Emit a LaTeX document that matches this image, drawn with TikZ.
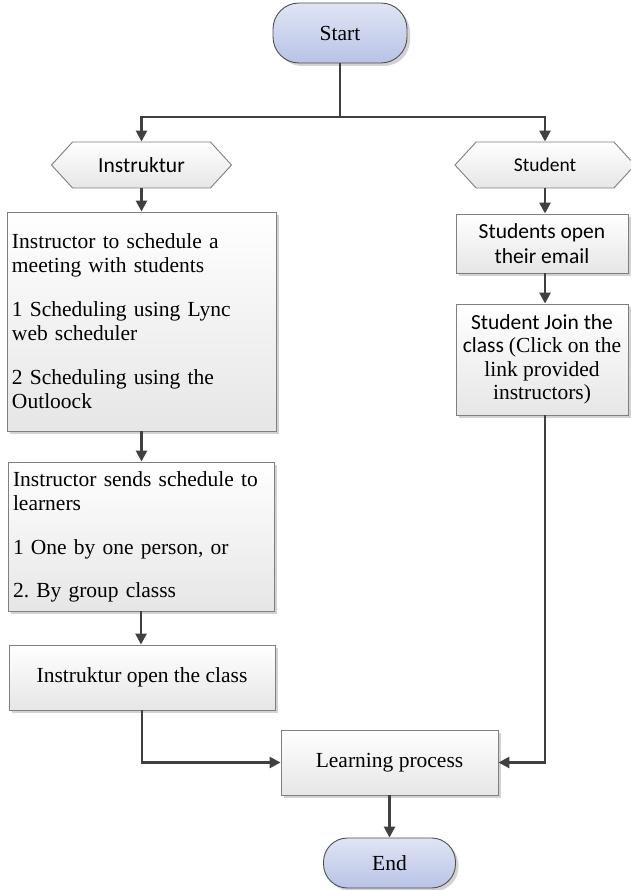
\documentclass[tikz,border=0pt]{standalone}
\usepackage{fontspec}
\setmainfont{Liberation Serif}
\newfontfamily\calfont{Carlito}
\usetikzlibrary{arrows.meta,shapes.symbols,shadows}
\definecolor{arr}{HTML}{404040}
\definecolor{bord}{HTML}{7F7F7F}
\definecolor{termtop}{HTML}{E0E5F5}
\definecolor{termbot}{HTML}{B8C3E6}
\definecolor{termbord}{HTML}{4F4F4F}
\definecolor{boxbot}{HTML}{E6E6E6}
\definecolor{shad}{HTML}{D2D2D2}
\frenchspacing
\begin{document}
\frenchspacing
\begin{tikzpicture}[x=1pt,y=-1pt,
  txt/.style={font=\frenchspacing\fontsize{21.5}{24}\selectfont},
  sh/.style={drop shadow={shadow xshift=3pt,shadow yshift=-3pt,fill=shad,opacity=1}},
  procbox/.style={draw=bord, line width=0.9pt, top color=white, bottom color=boxbot, sh, inner sep=0pt, align=center, txt},
  termbox/.style={draw=termbord, line width=0.9pt, rounded corners=26pt, top color=termtop, bottom color=termbot, sh, inner sep=0pt, txt},
  hexbox/.style={signal, signal to=west and east, signal pointer angle=95, draw=bord, line width=0.9pt, top color=white, bottom color=boxbot, inner sep=0pt, minimum height=46pt},
  conn/.style={draw=arr, line width=2.6pt},
  arrow/.style={conn, -{Triangle[length=11pt,width=11pt]}}
]
\useasboundingbox (0,0) rectangle (630,890);

\node[termbox, minimum width=134pt, minimum height=60pt] (start) at (340,33) {Start};

\node[hexbox, minimum width=180pt, font=\calfont\fontsize{21.5}{24}\selectfont] (ih) at (141.5,165) {Instruktur};
\node[hexbox, minimum width=180pt, font=\calfont\fontsize{19.5}{24}\selectfont] (sth) at (545,165) {Student};

\node[procbox, minimum width=269pt, minimum height=219pt, text width=259pt, align=left] (b1) at (141.5,321.5)
  {Instructor to schedule a\\ meeting with students\\[20pt] 1 Scheduling using Lync\\ web scheduler\\[20pt] 2 Scheduling using the\\ Outloock};

\node[procbox, minimum width=266pt, minimum height=149pt, text width=256pt, align=left] (b2) at (141,536.5)
  {Instructor sends schedule to\\ learners\\[20pt] 1 One by one person, or\\[19pt] 2. By group classs};

\node[procbox, minimum width=266pt, minimum height=65pt] (b3) at (142,677.5) {Instruktur open the class};

\node[procbox, minimum width=172pt, minimum height=59pt, font=\calfont\fontsize{21.5}{25}\selectfont] (s1) at (542,243.5)
  {Students open\\ their email};

\node[procbox, minimum width=172pt, minimum height=111pt, font=\fontsize{21.5}{23.5}\selectfont] (s2) at (542,359.5)
  {{\calfont Student Join the}\\ {\calfont class }(Click on the\\ link provided\\ instructors)};

\node[procbox, minimum width=217pt, minimum height=65pt] (lp) at (389.5,762.5) {Learning process};

\node[termbox, minimum width=132pt, minimum height=50pt, rounded corners=24pt] (end) at (389.5,863) {End};

\coordinate (split) at (340,117);
\draw[conn] (start.south) -- (split);
\draw[arrow] (split) -| (ih.north);
\draw[arrow] (split) -| (sth.north);
\draw[arrow] (ih.south) -- (ih.south |- b1.north);
\draw[arrow] (b1.south) -- (b1.south |- b2.north);
\draw[arrow] (b2.south) -- (b2.south |- b3.north);
\draw[arrow] (b3.south) |- (lp.west);
\draw[arrow] (sth.south) -- (sth.south |- s1.north);
\draw[arrow] (s1.south -| sth.south) -- (sth.south |- s2.north);
\draw[arrow] (s2.south -| sth.south) |- (lp.east);
\draw[arrow] (lp.south) -- (end.north);
\end{tikzpicture}
\end{document}
